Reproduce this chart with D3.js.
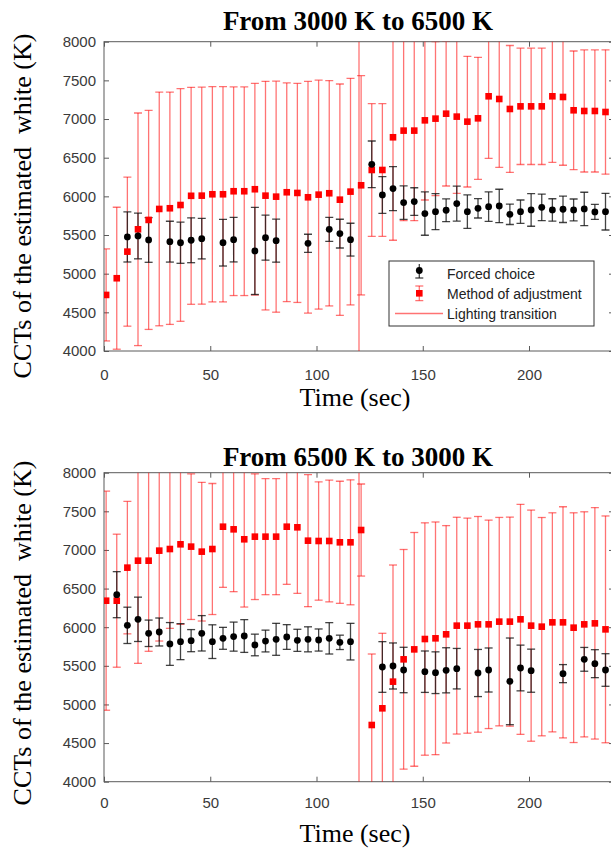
<!DOCTYPE html>
<html>
<head>
<meta charset="utf-8">
<script src="https://cdn.jsdelivr.net/npm/d3@7"></script>
<style>
  html, body { margin: 0; padding: 0; background: #fff; overflow: hidden; }
  svg { display: block; }
</style>
</head>
<body>
<svg id="fig" width="611" height="852"></svg>
<script>
// Sampling instants (s); lighting switches at 120 s
const times = [1, 6, 11, 16, 21, 26, 31, 36, 41, 46, 51, 56, 61, 66, 71, 76, 81, 86, 91, 96,
  101, 106, 111, 116, 121, 126, 131, 136, 141, 146, 151, 156, 161, 166, 171, 176, 181, 186, 191, 196,
  201, 206, 211, 216, 221, 226, 231, 236];
const transitionTime = 120;

// Panel A: from 3000 K to 6500 K
const fcMeanA = [null, null, 5475, 5488, 5436, null, 5414, 5400, 5432, 5453,
  null, 5401, 5440, null, 5294, 5466, 5427, null, null, 5393,
  null, 5574, 5518, 5440, null, 6414, 6018, 6100, 5919, 5932,
  5777, 5802, 5820, 5906, 5802, 5845, 5867, 5876, 5768, 5802,
  5824, 5858, 5824, 5833, 5824, 5837, 5798, 5802];
const fcErrA = [null, null, 324, 296, 289, null, 264, 266, 290, 262,
  null, 302, 288, null, 563, 291, 278, null, null, 117,
  null, 155, 186, 212, null, 302, 237, 285, 216, 179,
  280, 233, 147, 226, 216, 125, 190, 216, 132, 151,
  211, 172, 145, 171, 142, 216, 97, 237];
const moaMeanA = [4725, 4941, 5285, 5574, 5695, 5837, 5846, 5888, 6007, 6009,
  6027, 6027, 6066, 6066, 6092, 6009, 5996, 6053, 6044, 5988,
  6022, 6040, 5957, 6061, 6143, 6341, 6341, 6764, 6850, 6850,
  6983, 7005, 7069, 7031, 6966, 7009, 7294, 7259, 7130, 7164,
  7164, 7164, 7294, 7285, 7113, 7104, 7104, 7091];
const moaErrA = [595, 918, 964, 1504, 1416, 1511, 1502, 1504, 1403, 1403,
  1392, 1392, 1349, 1349, 1369, 1478, 1494, 1414, 1416, 1498,
  1480, 1457, 1496, 1465, 1418, 858, 858, 1332, 1164, 1164,
  1030, 996, 935, 992, 845, 789, 802, 883, 821, 752,
  752, 752, 854, 883, 767, 789, 789, 804];

// Panel B: from 6500 K to 3000 K
const fcMeanB = [null, 6421, 6024, 6102, 5921, 5938, 5783, 5813, 5826, 5921,
  5813, 5856, 5878, 5886, 5770, 5821, 5843, 5873, 5830, 5843,
  5834, 5856, 5804, 5813, null, null, 5485, 5498, 5446, null,
  5424, 5411, 5442, 5463, null, 5407, 5446, null, 5299, 5472,
  5437, null, null, 5399, null, 5584, 5528, 5446];
const fcErrB = [null, 298, 235, 287, 171, 181, 277, 233, 143, 229,
  218, 142, 188, 212, 140, 141, 207, 160, 143, 162,
  143, 203, 93, 237, null, null, 328, 298, 294, null,
  268, 270, 292, 262, null, 305, 285, null, 561, 296,
  279, null, null, 117, null, 154, 181, 211];
const moaMeanB = [6343, 6343, 6771, 6861, 6861, 6991, 7012, 7073, 7043, 6978,
  7012, 7301, 7267, 7138, 7172, 7172, 7172, 7301, 7293, 7120,
  7116, 7116, 7099, 7099, 7258, 4734, 4950, 5295, 5584, 5713,
  5847, 5856, 5908, 6020, 6020, 6037, 6037, 6072, 6072, 6102,
  6020, 6007, 6063, 6063, 5994, 6037, 6050, 5972];
const moaErrB = [1418, 861, 857, 1329, 1173, 1170, 1027, 1036, 943, 898,
  848, 785, 807, 877, 814, 751, 751, 746, 855, 854,
  766, 788, 790, 809, 596, 919, 971, 1510, 1422, 1513,
  1504, 1506, 1407, 1403, 1392, 1396, 1349, 1349, 1353, 1489,
  1496, 1413, 1418, 1496, 1487, 1457, 1498, 1468];

const xTicks = [0, 50, 100, 150, 200];
const yTicks = [4000, 4500, 5000, 5500, 6000, 6500, 7000, 7500, 8000];
const titles = ["From 3000 K to 6500 K", "From 6500 K to 3000 K"];
const yLabel = "CCTs of the estimated  white (K)";
const xLabel = "Time (sec)";
const legendLabels = ["Forced choice", "Method of adjustment", "Lighting transition"];

const svg = d3.select("#fig");
const SANS = "'Liberation Sans', Arial, sans-serif";
const SERIF = "'Liberation Serif', 'Times New Roman', serif";
const RED_BAR = "rgba(255,0,0,0.55)";
const BLK_BAR = "rgba(20,20,20,0.8)";
const AXIS = "#5a5a5a";
const plainNum = d3.format("d");

const plotLeft = 104, plotRight = 614;
const x = d3.scaleLinear().domain([0, 240]).range([plotLeft, plotRight]);

const panels = [
  { id: "a", top: 41.7, bottom: 351, titleY: 30, tickY: 380, xLabY: 406, yLabC: 206,
    fcMean: fcMeanA, fcErr: fcErrA, moaMean: moaMeanA, moaErr: moaErrA, legend: true },
  { id: "b", top: 472.7, bottom: 781.7, titleY: 466, tickY: 808, xLabY: 842, yLabC: 633,
    fcMean: fcMeanB, fcErr: fcErrB, moaMean: moaMeanB, moaErr: moaErrB, legend: false }
];

function errorBar(g, cx, y, mean, err, color, capHalf) {
  const y1 = y(mean - err), y2 = y(mean + err);
  g.append("line").attr("x1", cx).attr("x2", cx).attr("y1", y1).attr("y2", y2)
    .attr("stroke", color).attr("stroke-width", 1.3);
  [y1, y2].forEach(yy => g.append("line")
    .attr("x1", cx - capHalf).attr("x2", cx + capHalf).attr("y1", yy).attr("y2", yy)
    .attr("stroke", color).attr("stroke-width", 1.3));
}

panels.forEach((p, pi) => {
  const y = d3.scaleLinear().domain([4000, 8000]).range([p.bottom, p.top]);
  const g = svg.append("g");

  svg.append("defs").append("clipPath").attr("id", "clip-" + p.id)
    .append("rect").attr("x", plotLeft).attr("y", p.top)
    .attr("width", plotRight - plotLeft).attr("height", p.bottom - p.top);

  // axes with inward ticks on all four sides
  const left = g.append("g").attr("transform", `translate(${plotLeft},0)`)
    .call(d3.axisLeft(y).tickValues(yTicks).tickFormat(plainNum).tickSize(-5).tickPadding(8));
  const right = g.append("g").attr("transform", `translate(${plotRight},0)`)
    .call(d3.axisRight(y).tickValues(yTicks).tickSize(-5).tickFormat(""));
  const bottom = g.append("g").attr("transform", `translate(0,${p.bottom})`)
    .call(d3.axisBottom(x).tickValues(xTicks).tickFormat(plainNum).tickSize(-5));
  const topAx = g.append("g").attr("transform", `translate(0,${p.top})`)
    .call(d3.axisTop(x).tickValues(xTicks).tickSize(-5).tickFormat(""));
  [left, right, bottom, topAx].forEach(a => {
    a.select(".domain").remove();
    a.selectAll(".tick line").attr("stroke", AXIS);
    a.selectAll("text").attr("font-family", SANS).attr("font-size", 15).attr("fill", "#3a3a3a");
  });
  bottom.selectAll("text").attr("y", p.tickY - p.bottom).attr("dy", null);

  g.append("rect").attr("x", plotLeft).attr("y", p.top)
    .attr("width", plotRight - plotLeft).attr("height", p.bottom - p.top)
    .attr("fill", "none").attr("stroke", AXIS).attr("stroke-width", 1);

  const plot = g.append("g").attr("clip-path", `url(#clip-${p.id})`);

  // lighting transition
  plot.append("line").attr("x1", x(transitionTime)).attr("x2", x(transitionTime))
    .attr("y1", p.top).attr("y2", p.bottom).attr("stroke", RED_BAR).attr("stroke-width", 1.3);

  const moa = times.map((t, i) => ({ t, m: p.moaMean[i], e: p.moaErr[i] })).filter(d => d.m != null);
  const fc = times.map((t, i) => ({ t, m: p.fcMean[i], e: p.fcErr[i] })).filter(d => d.m != null);

  moa.forEach(d => errorBar(plot, x(d.t), y, d.m, d.e, RED_BAR, 4));
  fc.forEach(d => errorBar(plot, x(d.t), y, d.m, d.e, BLK_BAR, 4));

  plot.selectAll("rect.moa").data(moa).join("rect").attr("class", "moa")
    .attr("x", d => x(d.t) - 3.3).attr("y", d => y(d.m) - 3.3)
    .attr("width", 6.6).attr("height", 6.6).attr("fill", "#ff0000");
  plot.selectAll("circle.fc").data(fc).join("circle").attr("class", "fc")
    .attr("cx", d => x(d.t)).attr("cy", d => y(d.m)).attr("r", 3.4).attr("fill", "#000");

  // titles and labels
  svg.append("text").attr("x", 358).attr("y", p.titleY).attr("text-anchor", "middle")
    .attr("font-family", SERIF).attr("font-weight", "bold").attr("font-size", 27)
    .text(titles[pi]);
  svg.append("text").attr("x", 355).attr("y", p.xLabY).attr("text-anchor", "middle")
    .attr("font-family", SERIF).attr("font-size", 26).text(xLabel);
  svg.append("text").attr("transform", `translate(31,${p.yLabC}) rotate(-90)`)
    .attr("text-anchor", "middle").attr("font-family", SERIF).attr("font-size", 26)
    .attr("xml:space", "preserve").style("white-space", "pre").text(yLabel);

  if (p.legend) {
    const lg = svg.append("g");
    lg.append("rect").attr("x", 389).attr("y", 261).attr("width", 205).attr("height", 65)
      .attr("fill", "#fff").attr("stroke", "#333").attr("stroke-width", 1);
    const mx = 419.3;
    // forced choice glyph
    lg.append("line").attr("x1", mx).attr("x2", mx).attr("y1", 264).attr("y2", 278)
      .attr("stroke", BLK_BAR).attr("stroke-width", 1.3);
    lg.append("line").attr("x1", mx - 4).attr("x2", mx + 4).attr("y1", 278).attr("y2", 278)
      .attr("stroke", BLK_BAR).attr("stroke-width", 1.3);
    lg.append("circle").attr("cx", mx).attr("cy", 270.5).attr("r", 3.4).attr("fill", "#000");
    // method of adjustment glyph
    errorBar(lg, mx, v => v, 293.3, 7.3, RED_BAR, 4);
    lg.append("rect").attr("x", mx - 3.3).attr("y", 290).attr("width", 6.6).attr("height", 6.6)
      .attr("fill", "#ff0000");
    // transition glyph
    lg.append("line").attr("x1", 395).attr("x2", 443).attr("y1", 313.5).attr("y2", 313.5)
      .attr("stroke", RED_BAR).attr("stroke-width", 1.3);
    [279, 299, 319].forEach((yy, i) => lg.append("text").attr("x", 447).attr("y", yy)
      .attr("font-family", SANS).attr("font-size", 14).attr("fill", "#222").text(legendLabels[i]));
  }
});
</script>
</body>
</html>
